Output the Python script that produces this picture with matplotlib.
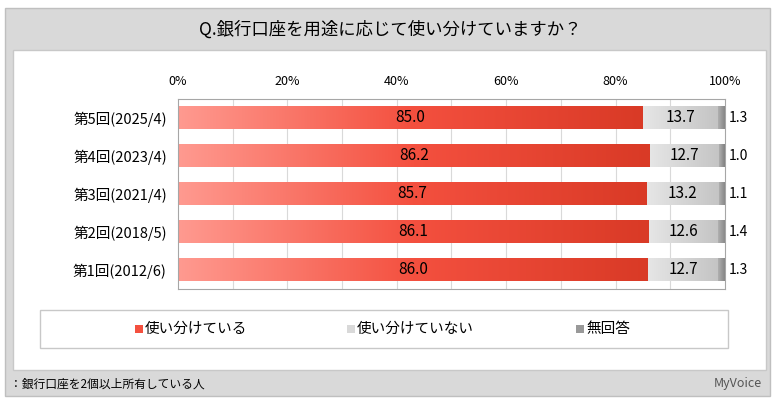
import numpy as np
import matplotlib.pyplot as plt
from matplotlib.patches import Rectangle
from matplotlib.colors import LinearSegmentedColormap

plt.rcParams['font.family'] = 'Noto Sans CJK JP'

labels = ['第5回(2025/4)', '第4回(2023/4)', '第3回(2021/4)', '第2回(2018/5)', '第1回(2012/6)']
yes = [85.0, 86.2, 85.7, 86.1, 86.0]
no = [13.7, 12.7, 13.2, 12.6, 12.7]
na = [1.3, 1.0, 1.1, 1.4, 1.3]
series = ['使い分けている', '使い分けていない', '無回答']

W, H = 780, 405
fig = plt.figure(figsize=(7.8, 4.05), dpi=100)

def box(x0, y0, x1, y1, fc, ec='none', lw=1, z=0):
    fig.patches.append(Rectangle((x0 / W, 1 - y1 / H), (x1 - x0) / W, (y1 - y0) / H,
                                 transform=fig.transFigure, fc=fc, ec=ec, lw=lw, zorder=z))

box(5, 8, 770, 396, '#d9d9d9', '#bfbfbf', z=-2)
box(13, 50, 766, 370, 'white', '#c8c8c8', z=-1)
fig.text(390 / W, 1 - 30 / H, 'Q.銀行口座を用途に応じて使い分けていますか？', ha='center', va='center', fontsize=12.5)
fig.text(10 / W, 1 - 384 / H, '：銀行口座を2個以上所有している人', ha='left', va='center', fontsize=8.5)
fig.text(762 / W, 1 - 383 / H, 'MyVoice', ha='right', va='center', fontsize=9, color='#555555')

ax = fig.add_axes([178 / W, 1 - 289 / H, (725 - 178) / W, 190 / H])
ax.set_zorder(5)
ax.set_xticks(np.arange(0, 101, 20))
ax.set_xticklabels([f'{v}%' for v in range(0, 101, 20)], fontsize=9)
ax.xaxis.tick_top()
ax.tick_params(length=0, pad=8)
ax.set_yticks(range(len(labels)))
ax.set_yticklabels(labels, fontsize=10.5)
ax.tick_params(axis='y', pad=8)
for v in range(10, 100, 10):
    ax.axvline(v, color='#d9d9d9', lw=0.8, zorder=0)
for s in ax.spines.values():
    s.set_color('#a6a6a6')

red = LinearSegmentedColormap.from_list('r', ['#ff9a90', '#f4503f', '#d93a26'])
light = LinearSegmentedColormap.from_list('l', ['#e6e6e6', '#c4c4c4'])
dark = LinearSegmentedColormap.from_list('d', ['#b0b0b0', '#808080'])
grad = np.linspace(0, 1, 256).reshape(1, -1)
h = 0.58
for i in range(len(labels)):
    parts = [(0, yes[i], red), (yes[i], no[i], light), (yes[i] + no[i], na[i], dark)]
    for x0, w, cm in parts:
        ax.imshow(grad, cmap=cm, aspect='auto', extent=(x0, x0 + w, i + h / 2, i - h / 2), zorder=2)
    ax.text(yes[i] / 2, i, f'{yes[i]:.1f}', ha='center', va='center', fontsize=11, zorder=3)
    ax.text(yes[i] + no[i] / 2, i, f'{no[i]:.1f}', ha='center', va='center', fontsize=11, zorder=3)
    ax.text(100.6, i, f'{na[i]:.1f}', ha='left', va='center', fontsize=10, zorder=3)
ax.set_xlim(0, 100)
ax.set_ylim(4.5, -0.5)

box(40, 310, 728, 348, 'white', '#c8c8c8')
colors = ['#f4503f', '#d9d9d9', '#999999']
xs = [135, 347, 576]
for x, c, s in zip(xs, colors, series):
    box(x, 325, x + 8, 333, c, z=1)
    fig.text((x + 10) / W, 1 - 329 / H, s, ha='left', va='center', fontsize=10.5)

fig.savefig('out.png', dpi=100)
